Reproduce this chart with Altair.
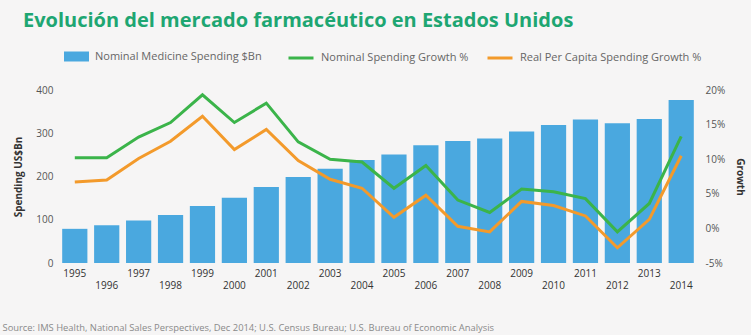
import altair as alt
import pandas as pd

years = [str(y) for y in range(1995, 2015)]
spending = [79, 87, 98, 111, 132, 151, 176, 199, 218, 238,
            251, 272, 282, 288, 304, 319, 332, 323, 333, 377]
nominal_growth = [10.2, 10.2, 13.2, 15.3, 19.3, 15.3, 18.1, 12.5, 10.0, 9.6,
                  5.8, 9.1, 4.1, 2.3, 5.7, 5.3, 4.3, -0.5, 3.6, 13.3]
real_growth = [6.7, 7.0, 10.1, 12.6, 16.2, 11.4, 14.3, 9.8, 7.1, 5.8,
               1.6, 4.8, 0.3, -0.5, 3.9, 3.3, 1.8, -2.8, 1.3, 10.5]

bar_name = "Nominal Medicine Spending $Bn"
line_names = ["Nominal Spending Growth %", "Real Per Capita Spending Growth %"]
title_text = "Evolución del mercado farmacéutico en Estados Unidos"
source_text = ("Source: IMS Health, National Sales Perspectives, Dec 2014; "
               "U.S. Census Bureau; U.S. Bureau of Economic Analysis")

BLUE = "#4aa8df"
GREEN = "#3bb44a"
ORANGE = "#f39a2b"
TITLE_GREEN = "#1ea672"
FONT = "Open Sans"

df = pd.DataFrame({
    "year": years,
    "spending": spending,
    line_names[0]: nominal_growth,
    line_names[1]: real_growth,
})

base = alt.Chart(df)

x_enc = alt.X(
    "year:N",
    scale=alt.Scale(paddingInner=0.21, paddingOuter=0.1),
    axis=alt.Axis(
        labelAngle=0, ticks=False, domain=False,
        labelExpr="toNumber(datum.value) % 2 == 0 ? ['', datum.value] : datum.value",
        labelLineHeight=12, labelPadding=5, labelFontSize=10, labelColor="#333",
        labelFont=FONT,
        title=source_text, titleFontSize=9.4, titleFontWeight="normal",
        titleColor="#8a8a8a", titleFont=FONT, titleAlign="left",
        titleAnchor="start", titleX=-57, titleY=67, titleBaseline="alphabetic",
    ),
)

bars = base.transform_calculate(label=f"'{bar_name}'").mark_bar().encode(
    x=x_enc,
    y=alt.Y(
        "spending:Q",
        scale=alt.Scale(domain=[0, 400]),
        axis=alt.Axis(
            values=[0, 100, 200, 300, 400], grid=False, ticks=False, domain=False,
            labelPadding=6, labelFontSize=10, labelColor="#555", labelFont=FONT,
            title="Spending US$Bn", titleFontSize=10, titleFontWeight="bold",
            titleColor="#333", titleFont=FONT, titlePadding=12,
        ),
    ),
    fill=alt.Fill(
        "label:N",
        scale=alt.Scale(domain=[bar_name], range=[BLUE]),
        legend=alt.Legend(
            orient="none", legendX=5, legendY=-46, title=None, padding=0,
            symbolType="M-1,-0.4H1V0.4H-1Z", symbolSize=625, symbolStrokeWidth=0,
            labelFont=FONT, labelFontSize=11, labelColor="#666", labelOffset=6,
            labelLimit=300,
        ),
    ),
)

lines = base.transform_fold(line_names, as_=["series", "growth"]).mark_line(
    strokeWidth=3
).encode(
    x=alt.X("year:N"),
    y=alt.Y(
        "growth:Q",
        scale=alt.Scale(domain=[-5, 20]),
        axis=alt.Axis(
            orient="right", values=[-5, 0, 5, 10, 15, 20], grid=False, ticks=False,
            domain=False, labelExpr="datum.value + '%'",
            labelPadding=8, labelFontSize=10, labelColor="#555", labelFont=FONT,
            title="Growth", titleFontSize=10, titleFontWeight="bold",
            titleColor="#333", titleFont=FONT, titlePadding=10,
        ),
    ),
    stroke=alt.Stroke(
        "series:N",
        scale=alt.Scale(domain=line_names, range=[GREEN, ORANGE]),
        legend=alt.Legend(
            orient="none", legendX=228, legendY=-46, title=None, padding=0,
            direction="horizontal", columns=2, columnPadding=12,
            symbolType="M-1,0H1", symbolSize=625, symbolStrokeWidth=3,
            labelFont=FONT, labelFontSize=11, labelColor="#666", labelOffset=6,
            labelLimit=300,
        ),
    ),
)

chart = alt.layer(bars, lines).resolve_scale(
    y="independent"
).properties(
    width=638,
    height=173,
    padding={"left": 59, "top": 90, "right": 54, "bottom": 72},
    autosize=alt.AutoSizeParams(type="none"),
    background="#f6f5f5",
    title=alt.TitleParams(
        title_text, anchor="start", frame="group", offset=13, dx=-36,
        font=FONT, fontSize=20, fontWeight="bold", color=TITLE_GREEN,
    ),
).configure_view(stroke=None)

chart.save("out.html", embed_options={"renderer": "svg", "actions": False})
